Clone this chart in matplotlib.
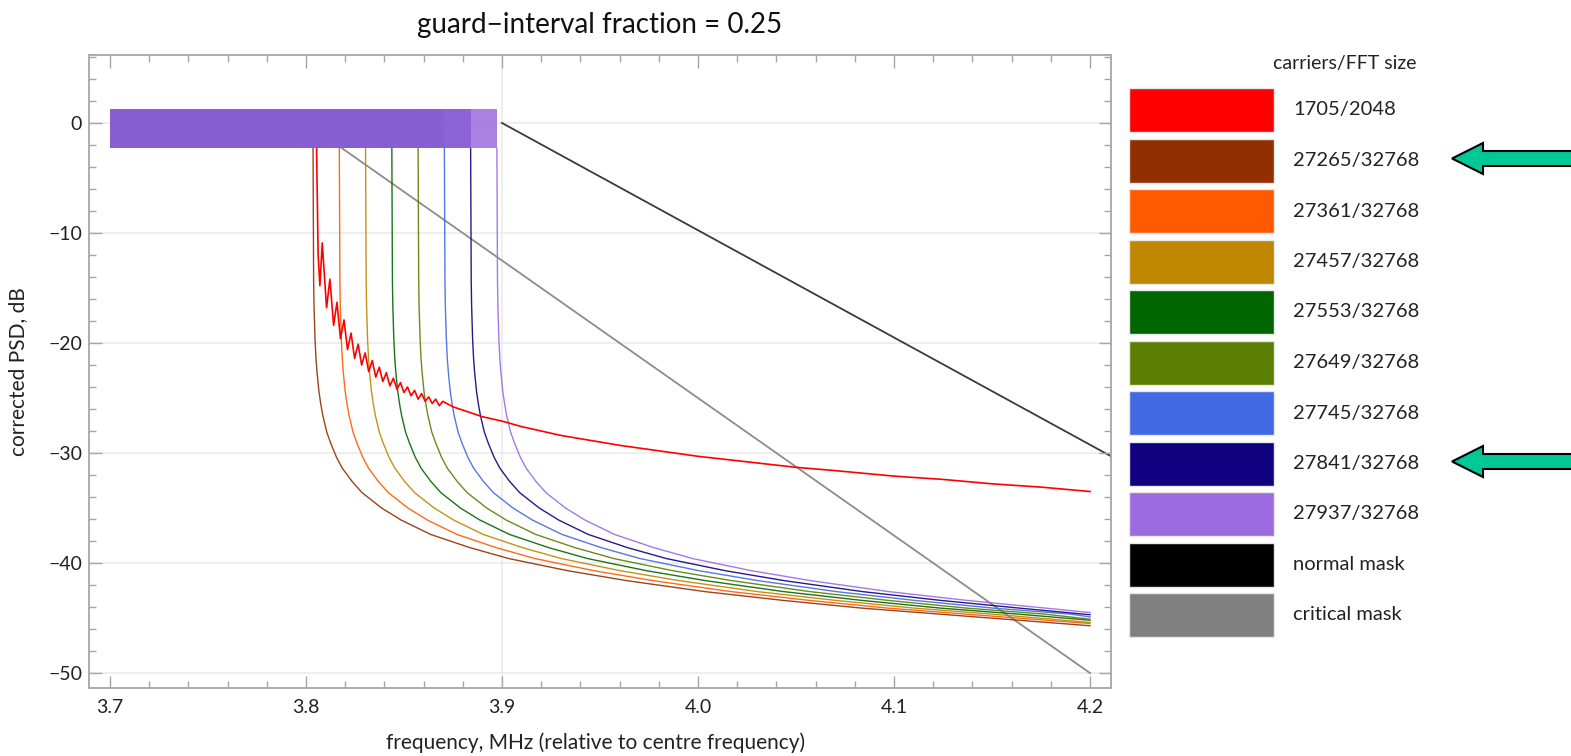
import numpy as np
import matplotlib
matplotlib.use("Agg")
import matplotlib.pyplot as plt
from matplotlib.patches import Rectangle, FancyArrow
from matplotlib.ticker import MultipleLocator


# ----------------------------
# data
# ----------------------------

LABELS = ["1705/2048", "27265/32768", "27361/32768", "27457/32768", "27553/32768",
          "27649/32768", "27745/32768", "27841/32768", "27937/32768"]
COLORS = ["#ff0000", "#912f00", "#ff5a00", "#bf8600", "#006600",
          "#5b7f00", "#4169e1", "#100080", "#9b6bdf"]
MASK_LABELS = ["normal mask", "critical mask"]
MASK_COLORS = ["#000000", "#808080"]

# upper band edge of each spectrum, MHz
CUTOFF = [3.8054, 3.8036, 3.8170, 3.8304, 3.8438, 3.8572, 3.8706, 3.8840, 3.8974]
BAND_START = 3.7
BAND_TOP = 1.3      # ripple envelope in the passband, dB
BAND_BOTTOM = -2.3

# 32k curves: shape below the band edge (offset from edge, MHz -> dB)
TAIL_OFFSET = [0.0, 0.0003, 0.0005, 0.001, 0.0015, 0.002, 0.003, 0.004, 0.005, 0.007,
               0.009, 0.012, 0.015, 0.02, 0.025, 0.035, 0.045, 0.06, 0.08, 0.1,
               0.13, 0.16, 0.2, 0.24, 0.28, 0.32]
TAIL_DB = [-2.3, -14.4, -16.6, -19.6, -21.4, -22.6, -24.4, -25.6, -26.6, -28.1,
           -29.1, -30.4, -31.4, -32.6, -33.6, -35.0, -36.1, -37.4, -38.6, -39.6,
           -40.7, -41.6, -42.6, -43.4, -44.1, -44.65]
# value of each 32k curve at 4.2 MHz
END_FREQ = 4.2
END_DB = [-45.7, -45.5, -45.4, -45.2, -45.1, -44.9, -44.7, -44.5]

# 2k curve, with its sidelobes near the edge
RED_FREQ = [3.8054, 3.8062, 3.8071, 3.8083, 3.8105, 3.8122, 3.8141, 3.8158, 3.8176, 3.8194,
            3.8212, 3.8230, 3.8248, 3.8266, 3.8284, 3.8302, 3.8320, 3.8338, 3.8356, 3.8374,
            3.8392, 3.8410, 3.8428, 3.8446, 3.8464, 3.8482, 3.8500, 3.8518, 3.8536, 3.8554,
            3.8572, 3.8590, 3.8608, 3.8626, 3.8644, 3.8662, 3.8680, 3.8698,
            3.875, 3.88, 3.885, 3.89, 3.90, 3.91, 3.92, 3.93, 3.94, 3.96, 3.98,
            4.00, 4.02, 4.05, 4.07, 4.10, 4.125, 4.15, 4.175, 4.20]
RED_DB = [-2.3, -12.0, -14.8, -10.9, -16.8, -14.2, -18.4, -16.3, -19.6, -17.9,
          -20.6, -19.1, -21.4, -20.1, -22.0, -20.9, -22.6, -21.6, -23.1, -22.2,
          -23.5, -22.7, -23.9, -23.2, -24.2, -23.6, -24.5, -24.0, -24.8, -24.3,
          -25.1, -24.6, -25.3, -24.9, -25.5, -25.1, -25.7, -25.3,
          -25.8, -26.1, -26.4, -26.7, -27.1, -27.6, -28.0, -28.4, -28.7, -29.3, -29.8,
          -30.3, -30.7, -31.3, -31.6, -32.1, -32.4, -32.8, -33.1, -33.5]

NORMAL_MASK_FREQ = [3.9, 4.3]
NORMAL_MASK_DB = [0.0, -39.0]
CRITICAL_MASK_FREQ = [3.8, 4.2]
CRITICAL_MASK_DB = [0.0, -50.0]

TITLE = "guard\u2212interval fraction = 0.25"
XLABEL = "frequency, MHz (relative to centre frequency)"
YLABEL = "corrected PSD, dB"
LEGEND_TITLE = "carriers/FFT size"
ARROW_ROWS = [1, 7]

W, H = 1571, 756
FONT = ["Lato", "DejaVu Sans"]
plt.rcParams["font.family"] = FONT
plt.rcParams["axes.unicode_minus"] = True


def px_rect(x0, y0, x1, y1):
    # pixel box (top-left origin) -> figure fraction
    return [x0 / W, 1 - y1 / H, (x1 - x0) / W, (y1 - y0) / H]


def draw_main(fig):
    ax = fig.add_axes(px_rect(89, 55, 1111, 688))
    ax.set_xlim(3.6893, 4.2107)
    ax.set_ylim(-51.36, 6.18)

    frame_col = "#a6a6a6"
    for s in ax.spines.values():
        s.set_color(frame_col)
        s.set_linewidth(1.3)
    ax.xaxis.set_major_locator(MultipleLocator(0.1))
    ax.xaxis.set_minor_locator(MultipleLocator(0.02))
    ax.yaxis.set_major_locator(MultipleLocator(10))
    ax.yaxis.set_minor_locator(MultipleLocator(2))
    ax.tick_params(which="both", direction="in", top=True, right=True,
                   color=frame_col, width=1.0, labelsize=14, labelcolor="#222222")
    ax.tick_params(which="major", length=9)
    ax.tick_params(which="minor", length=5)
    ax.tick_params(axis="x", pad=8)
    ax.tick_params(axis="y", pad=5)
    ax.xaxis.set_major_formatter(plt.FuncFormatter(lambda v, p: f"{v:.1f}"))
    ax.yaxis.set_major_formatter(plt.FuncFormatter(
        lambda v, p: f"{v:.0f}".replace("-", "\u2212")))

    # grid: horizontal at every major tick, one vertical line at 3.9
    for yv in np.arange(-50, 1, 10):
        ax.axhline(yv, color="#ebebeb", lw=1.2, zorder=0)
    ax.axvline(3.9, color="#ebebeb", lw=1.2, zorder=0)

    # masks
    ax.plot(CRITICAL_MASK_FREQ, CRITICAL_MASK_DB, color="#8c8c8c", lw=1.3, zorder=1)
    ax.plot(NORMAL_MASK_FREQ, NORMAL_MASK_DB, color="#3a3a3a", lw=1.3, zorder=1)

    # stop-band tails
    ax.plot(RED_FREQ, RED_DB, color=COLORS[0], lw=1.2, zorder=3)
    offs = np.array(TAIL_OFFSET)
    for i in range(1, len(COLORS)):
        fc = CUTOFF[i]
        keep = fc + offs < END_FREQ
        xs = list(fc + offs[keep]) + [END_FREQ]
        ys = list(np.array(TAIL_DB)[keep]) + [END_DB[i - 1]]
        ax.plot(xs, ys, color=COLORS[i], lw=1.0, alpha=0.9, zorder=2 + i * 0.01)

    # passband ripple block, later series on top
    for i, c in enumerate(COLORS):
        a = 0.85 if i == len(COLORS) - 1 else 0.8
        ax.fill_between([BAND_START, CUTOFF[i]], BAND_BOTTOM, BAND_TOP,
                        color=c, alpha=a, lw=0, zorder=4 + i * 0.01)

    return ax


def draw_legend(fig):
    lax = fig.add_axes([0, 0, 1, 1])
    lax.set_xlim(0, W)
    lax.set_ylim(H, 0)
    lax.axis("off")

    lax.text(1345, 64, LEGEND_TITLE, ha="center", va="center", fontsize=14, color="#222222")
    labels = LABELS + MASK_LABELS
    colors = COLORS + MASK_COLORS
    row0, step = 110, 50.5
    for k, (lab, col) in enumerate(zip(labels, colors)):
        yc = row0 + k * step
        lax.add_patch(Rectangle((1129, yc - 22), 145, 44, facecolor=col,
                                edgecolor="#e8e8e8", lw=1))
        lax.text(1293, yc, lab, ha="left", va="center", fontsize=14.5, color="#222222")

    for k in ARROW_ROWS:
        yc = row0 + k * step - 2
        lax.add_patch(FancyArrow(1620, yc, 1452 - 1620, 0, width=15, head_width=31,
                                 head_length=31, length_includes_head=True,
                                 facecolor="#00c896", edgecolor="black", lw=1.5))


def main():
    fig = plt.figure(figsize=(W / 100, H / 100), dpi=100)
    draw_main(fig)
    fig.text(600 / W, 1 - 25 / H, TITLE, ha="center", va="center", fontsize=20, color="#111111")
    fig.text(596 / W, 1 - 743 / H, XLABEL, ha="center", va="center", fontsize=15, color="#222222")
    fig.text(18 / W, 1 - 372 / H, YLABEL, ha="center", va="center", rotation=90,
             fontsize=15, color="#222222")
    draw_legend(fig)
    fig.savefig("out.png", dpi=100)
    print("Saved to out.png")


if __name__ == "__main__":
    main()
